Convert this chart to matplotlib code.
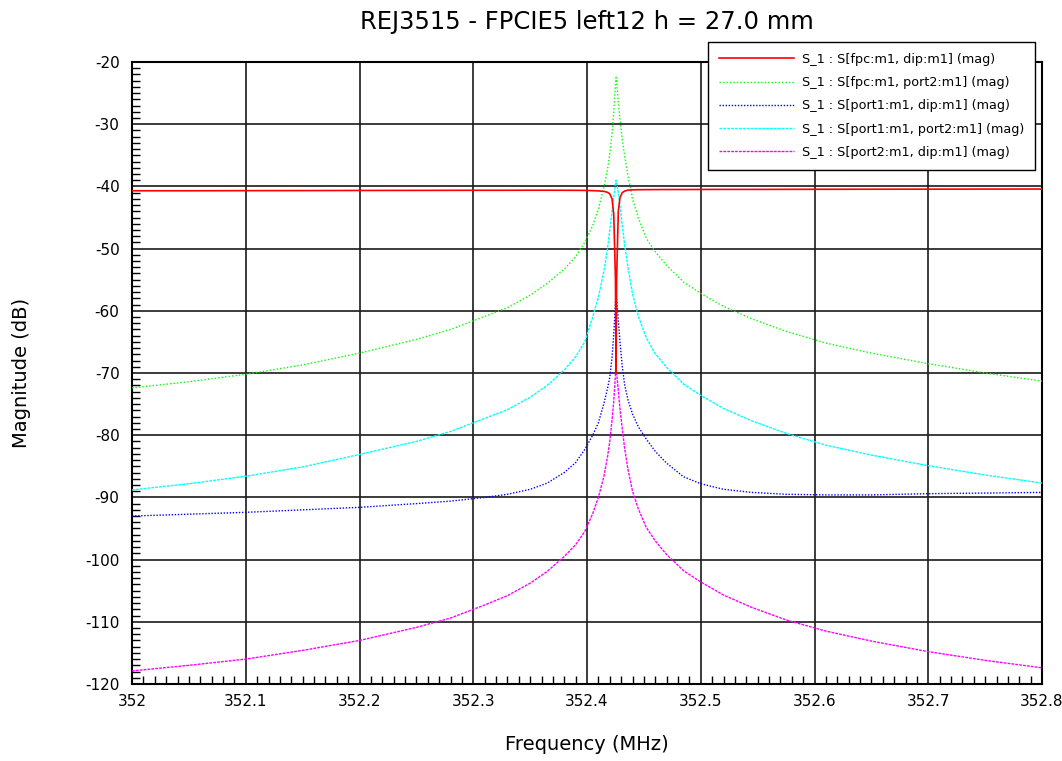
import matplotlib
matplotlib.use("Agg")
import matplotlib.pyplot as plt
from matplotlib.ticker import MultipleLocator

# frequency points (MHz), dense around the resonance
freq = [352.0, 352.05, 352.1, 352.15, 352.2, 352.25, 352.28, 352.31, 352.33, 352.35,
        352.365, 352.38, 352.39, 352.398, 352.405, 352.41, 352.415, 352.418, 352.42, 352.422,
        352.4235, 352.425, 352.4255, 352.426, 352.4275, 352.429, 352.431, 352.433, 352.436, 352.44,
        352.445, 352.452, 352.46, 352.47, 352.485, 352.5, 352.52, 352.545, 352.575, 352.61,
        352.65, 352.7, 352.75, 352.8]

s_fpc_dip = [-40.70, -40.70, -40.68, -40.67, -40.65, -40.64, -40.63, -40.62, -40.62, -40.61,
             -40.61, -40.62, -40.63, -40.64, -40.68, -40.72, -40.80, -40.95, -41.20, -42.0,
             -44.5, -55.0, -70.0, -55.0, -44.0, -41.8, -41.0, -40.75, -40.60, -40.55,
             -40.53, -40.52, -40.51, -40.50, -40.50, -40.49, -40.48, -40.48, -40.47, -40.46,
             -40.45, -40.44, -40.43, -40.42]

s_fpc_port2 = [-72.4, -71.4, -70.2, -68.7, -66.8, -64.6, -63.0, -60.9, -59.5, -57.5,
               -55.6, -53.3, -51.3, -49.0, -46.3, -43.6, -40.0, -37.3, -34.8, -31.5,
               -28.0, -23.5, -22.5, -23.0, -26.5, -29.3, -32.5, -35.0, -38.3, -42.0,
               -45.0, -48.3, -50.5, -52.7, -55.4, -57.2, -59.3, -61.3, -63.3, -65.2,
               -66.8, -68.5, -70.0, -71.3]

s_port1_dip = [-93.0, -92.7, -92.4, -92.0, -91.6, -91.0, -90.6, -90.0, -89.5, -88.7,
               -87.7, -86.0, -84.4, -82.3, -80.0, -78.0, -74.8, -72.5, -70.7, -67.5,
               -63.8, -58.8, -57.2, -58.0, -61.5, -65.0, -69.0, -71.8, -74.3, -76.6,
               -78.6, -80.6, -82.6, -84.5, -86.7, -87.8, -88.7, -89.2, -89.5, -89.6,
               -89.6, -89.4, -89.3, -89.2]

s_port1_port2 = [-88.8, -87.8, -86.6, -85.1, -83.1, -81.0, -79.4, -77.3, -75.9, -73.9,
                 -72.0, -69.5, -67.4, -65.0, -61.0, -57.8, -53.5, -50.0, -47.0, -44.0,
                 -41.8, -39.6, -39.0, -39.4, -41.0, -43.2, -46.3, -49.3, -53.0, -57.3,
                 -60.8, -64.3, -66.9, -69.1, -71.8, -73.6, -75.7, -77.7, -79.7, -81.6,
                 -83.2, -84.9, -86.4, -87.7]

s_port2_dip = [-117.9, -117.0, -116.0, -114.6, -113.0, -110.9, -109.4, -107.3, -105.8, -103.8,
               -101.9, -99.5, -97.6, -95.5, -92.6, -90.0, -86.5, -83.5, -81.0, -77.5,
               -74.5, -70.3, -69.3, -70.0, -72.8, -75.8, -79.0, -82.0, -85.5, -89.0,
               -91.8, -94.8, -97.0, -99.2, -101.8, -103.6, -105.7, -107.7, -109.7, -111.5,
               -113.1, -114.8, -116.2, -117.4]

labels = ["S_1 : S[fpc:m1, dip:m1] (mag)",
          "S_1 : S[fpc:m1, port2:m1] (mag)",
          "S_1 : S[port1:m1, dip:m1] (mag)",
          "S_1 : S[port1:m1, port2:m1] (mag)",
          "S_1 : S[port2:m1, dip:m1] (mag)"]

xticks = [352.0, 352.1, 352.2, 352.3, 352.4, 352.5, 352.6, 352.7, 352.8]
xtick_labels = ["352", "352.1", "352.2", "352.3", "352.4", "352.5", "352.6", "352.7", "352.8"]
yticks = [-120, -110, -100, -90, -80, -70, -60, -50, -40, -30, -20]

title = "REJ3515 - FPCIE5 left12 h = 27.0 mm"

plt.rcParams["font.family"] = "DejaVu Sans"
plt.rcParams["axes.unicode_minus"] = False

fig = plt.figure(figsize=(10.62, 7.61), dpi=100)
ax = fig.add_axes([0.1243, 0.1012, 0.8569, 0.8173])

ax.plot(freq, s_fpc_dip, color="#ff0000", lw=1.2, label=labels[0], zorder=4)
ax.plot(freq, s_fpc_port2, color="#00ff00", lw=1.0, ls=(0, (1, 1.5)), label=labels[1], zorder=3)
ax.plot(freq, s_port1_dip, color="#0000ff", lw=1.0, ls=(0, (1, 1.2)), label=labels[2], zorder=3)
ax.plot(freq, s_port1_port2, color="#00ffff", lw=1.0, ls=(0, (2, 0.8)), label=labels[3], zorder=3)
ax.plot(freq, s_port2_dip, color="#ff00ff", lw=1.0, ls=(0, (2, 0.8)), label=labels[4], zorder=3)

ax.set_xlim(352.0, 352.8)
ax.set_ylim(-120, -20)
ax.set_xticks(xticks)
ax.set_xticklabels(xtick_labels)
ax.set_yticks(yticks)
ax.set_yticklabels([str(v) for v in yticks])
ax.xaxis.set_minor_locator(MultipleLocator(0.01))
ax.yaxis.set_minor_locator(MultipleLocator(1))
ax.tick_params(which="major", length=0, labelsize=11, pad=9)
ax.tick_params(which="minor", direction="in", length=6, width=1, color="black")
ax.tick_params(axis="x", which="major", pad=7)
ax.grid(True, which="major", color="#1a1a1a", lw=1.2)
for sp in ax.spines.values():
    sp.set_color("black")
    sp.set_linewidth(1.5)

fig.text(0.5527, 0.971, title, ha="center", va="center", fontsize=17.5)
fig.text(0.5527, 0.0223, "Frequency (MHz)", ha="center", va="center", fontsize=14)
fig.text(0.0207, 0.5099, "Magnitude (dB)", ha="center", va="center", rotation=90, fontsize=14)

leg = ax.legend(loc="upper left", bbox_to_anchor=(0.6667, 0.9448), bbox_transform=fig.transFigure,
                fontsize=9.2, handlelength=5.9, handletextpad=0.6, labelspacing=0.8,
                borderpad=0.85, borderaxespad=0, fancybox=False, framealpha=1, edgecolor="black")
leg.get_frame().set_linewidth(1.0)
leg.set_zorder(10)

fig.savefig("out.png", dpi=100)
